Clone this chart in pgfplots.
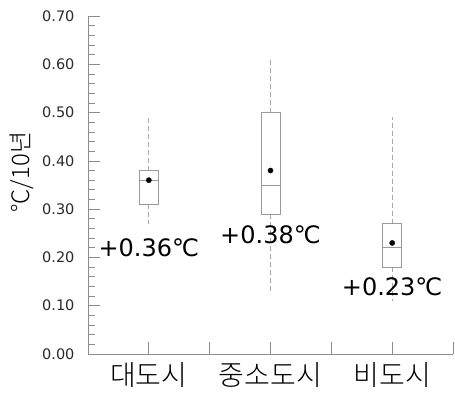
\documentclass[border=0pt]{standalone}
\usepackage{pgfplots}
\pgfplotsset{compat=1.18}
\usepgfplotslibrary{statistics}
\usepackage{fontspec}
\setmainfont{DejaVu Sans}
\newfontfamily\kr{Noto Sans CJK KR Light}
\definecolor{axgray}{HTML}{8C8C8C}
\definecolor{boxgray}{HTML}{9A9A9A}
\definecolor{dashgray}{HTML}{A8A8A8}
\definecolor{tickgray}{HTML}{2A2A2A}
\begin{document}
\begin{tikzpicture}
\begin{axis}[
  at={(88pt,38pt)}, anchor=south west,
  scale only axis, width=365pt, height=338pt,
  xmin=0, xmax=6, ymin=0, ymax=0.7,
  axis x line*=bottom, axis y line*=left,
  axis line style={axgray, line width=0.8pt},
  xtick={1,2,3,4,5,6},
  xticklabels={대도시,,중소도시,,비도시,},
  ytick={0,0.1,0.2,0.3,0.4,0.5,0.6,0.7},
  minor y tick num=4,
  tick align=inside,
  major tick length=12pt, minor tick length=7pt,
  tick style={axgray, line width=0.7pt},
  /pgf/number format/assume math mode=true,
  yticklabel style={/pgf/number format/fixed, /pgf/number format/fixed zerofill, /pgf/number format/precision=2,
    font=\fontsize{14.5pt}{16pt}\selectfont, text=tickgray, xshift=-10pt},
  xticklabel style={font=\kr\fontsize{28pt}{30pt}\selectfont, text=black, yshift=-5pt},
  boxplot/draw direction=y,
  boxplot/box extend=0.31,
  boxplot/whisker extend=0,
  boxplot/every box/.style={draw=boxgray, line width=0.7pt},
  boxplot/every median/.style={draw=boxgray, line width=0.7pt},
  boxplot/every whisker/.style={draw=dashgray, line width=1pt, dash pattern=on 5pt off 3pt},
  clip=false,
]
\addplot+[boxplot prepared={draw position=1, lower whisker=0.27, lower quartile=0.31, median=0.36, upper quartile=0.38, upper whisker=0.49}, draw=boxgray, mark=none] coordinates {};
\addplot+[boxplot prepared={draw position=3, lower whisker=0.13, lower quartile=0.29, median=0.35, upper quartile=0.50, upper whisker=0.61}, draw=boxgray, mark=none] coordinates {};
\addplot+[boxplot prepared={draw position=5, lower whisker=0.11, lower quartile=0.18, median=0.22, upper quartile=0.27, upper whisker=0.49}, draw=boxgray, mark=none] coordinates {};
\addplot[only marks, mark=*, mark size=2.6pt, black] coordinates {(1,0.36) (3,0.38) (5,0.23)};
\node[anchor=base, font=\fontsize{24pt}{28pt}\selectfont, inner sep=0pt] at (axis cs:1,0.201) {+0.36℃};
\node[anchor=base, font=\fontsize{24pt}{28pt}\selectfont, inner sep=0pt] at (axis cs:3,0.228) {+0.38℃};
\node[anchor=base, font=\fontsize{24pt}{28pt}\selectfont, inner sep=0pt] at (axis cs:5,0.122) {+0.23℃};
\node[rotate=90, font=\kr\fontsize{24pt}{28pt}\selectfont, inner sep=0pt] at (rel axis cs:-0.181,0.538) {°C/10년};
\end{axis}
\pgfresetboundingbox
\path[use as bounding box] (0,0) rectangle (455pt,392pt);
\end{tikzpicture}
\end{document}
